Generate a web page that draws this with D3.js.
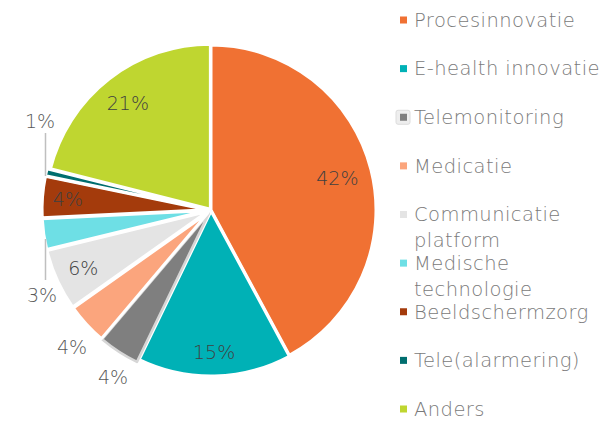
<!DOCTYPE html>
<html><head><meta charset="utf-8">
<script src="https://cdn.jsdelivr.net/npm/d3@7"></script>
<style>body{margin:0;background:#fff}svg{display:block}</style>
</head><body><svg id="c" width="605" height="421"></svg>
<script>
const categories = ["Procesinnovatie","E-health innovatie","Telemonitoring","Medicatie","Communicatie platform","Medische technologie","Beeldschermzorg","Tele(alarmering)","Anders"];
const legendLines = [["Procesinnovatie"],["E-health innovatie"],["Telemonitoring"],["Medicatie"],["Communicatie","platform"],["Medische","technologie"],["Beeldschermzorg"],["Tele(alarmering)"],["Anders"]];
const values = [42,15,4,4,6,3,4,0.7,21];
const labels = ["42%","15%","4%","4%","6%","3%","4%","1%","21%"];
const colors = ["#F07133","#00B1B6","#7F7F7F","#FBA57D","#E4E4E4","#6EDFE5","#A43B0C","#006E6F","#BFD630"];

const svg = d3.select("#c");
const FONT = "'DejaVu Sans', sans-serif";
const cx = 211, cy = 210, R = 165;
const explode = [0,1,4,4,4,4,4,4,1];
const pie = d3.pie().sort(null).value(d=>d)(values);
const arc = d3.arc().innerRadius(0).outerRadius(R);
const g = svg.append("g").attr("transform",`translate(${cx},${cy})`);

pie.forEach((p,i)=>{
  const m = (p.startAngle+p.endAngle)/2;
  const dx = Math.sin(m)*explode[i], dy = -Math.cos(m)*explode[i];
  g.append("path").attr("d",arc(p)).attr("transform",`translate(${dx},${dy})`)
    .attr("fill",colors[i]).attr("stroke", i===2 ? "#d6d6d6" : "#fff")
    .attr("stroke-width", i===2 ? 2.5 : 3).attr("stroke-linejoin","round");
});
const inside = {0:0.79,1:0.86,4:0.85,6:0.87,8:0.82};
pie.forEach((p,i)=>{
  if(inside[i]===undefined) return;
  const m = (p.startAngle+p.endAngle)/2;
  let r = R*inside[i];
  let x = Math.sin(m)*r, y = -Math.cos(m)*r;
  g.append("text").attr("x",x).attr("y",y).attr("dy","0.35em").attr("text-anchor","middle")
   .attr("font-family",FONT).attr("font-weight",200).attr("font-size",19).attr("fill","#404040").text(labels[i]);
});
const outside = [
  {i:7, x:40, y:121, line:[133,176]},
  {i:5, x:42, y:295, line:[239,280]},
  {i:3, x:72, y:347},
  {i:2, x:113, y:377}
];
outside.forEach(o=>{
  svg.append("text").attr("x",o.x).attr("y",o.y).attr("dy","0.35em").attr("text-anchor","middle")
    .attr("font-family",FONT).attr("font-weight",200).attr("font-size",19).attr("fill","#595959").text(labels[o.i]);
  if(o.line) svg.append("line").attr("x1",45.5).attr("x2",45.5).attr("y1",o.line[0]).attr("y2",o.line[1])
    .attr("stroke","#BFBFBF").attr("stroke-width",1.5);
});
const ly = d3.scaleLinear().domain([0,8]).range([20,409]);
categories.forEach((c,i)=>{
  const y = ly(i);
  if(i===2){
    svg.append("rect").attr("x",396).attr("y",y-7).attr("width",14).attr("height",14).attr("rx",2)
      .attr("fill","#eeeeee").attr("stroke","#dcdcdc");
  }
  svg.append("rect").attr("x",400).attr("y",y-3.5).attr("width",7).attr("height",7).attr("fill",colors[i]);
  legendLines[i].forEach((t,k)=>{
    svg.append("text").attr("x",414).attr("y",y+k*26).attr("dy","0.35em")
      .attr("font-family",FONT).attr("font-weight",200).attr("font-size",19.5).attr("letter-spacing",0.45)
      .attr("fill","#7a7a7a").text(t);
  });
});
</script></body></html>
